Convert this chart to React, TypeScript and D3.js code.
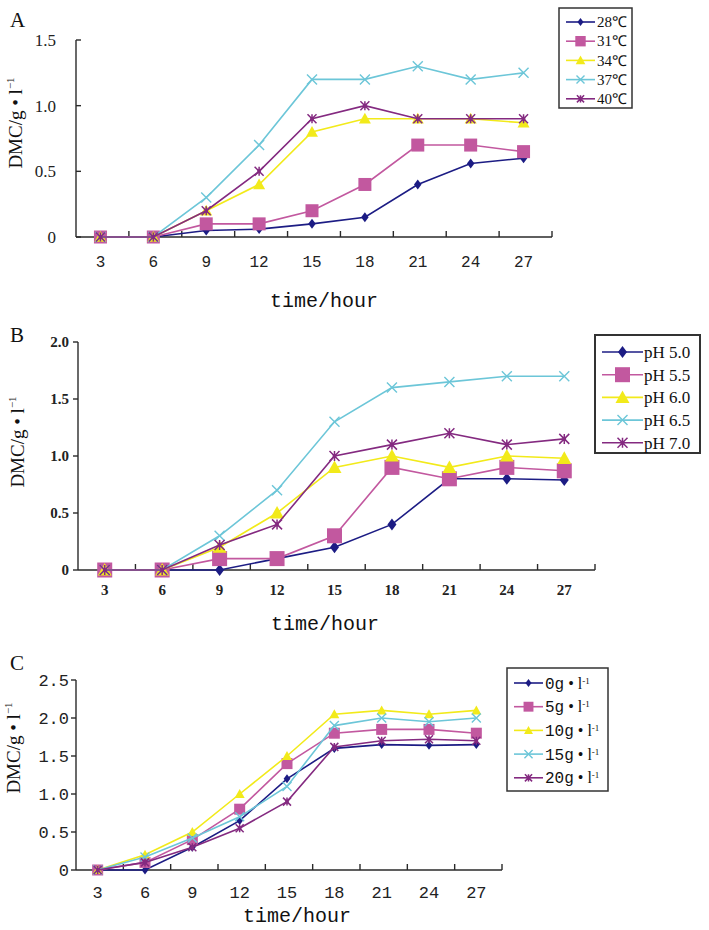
import React from 'react';
import * as d3 from 'd3';

const hours = [3, 6, 9, 12, 15, 18, 21, 24, 27];

const tempLabels = ['28℃', '31℃', '34℃', '37℃', '40℃'];
const temp28 = [0, 0, 0.05, 0.06, 0.1, 0.15, 0.4, 0.56, 0.6];
const temp31 = [0, 0, 0.1, 0.1, 0.2, 0.4, 0.7, 0.7, 0.65];
const temp34 = [0, 0, 0.2, 0.4, 0.8, 0.9, 0.9, 0.9, 0.87];
const temp37 = [0, 0, 0.3, 0.7, 1.2, 1.2, 1.3, 1.2, 1.25];
const temp40 = [0, 0, 0.2, 0.5, 0.9, 1.0, 0.9, 0.9, 0.9];
const tempTicks = [0, 0.5, 1.0, 1.5];

const phLabels = ['pH 5.0', 'pH 5.5', 'pH 6.0', 'pH 6.5', 'pH 7.0'];
const ph50 = [0, 0, 0, 0.1, 0.2, 0.4, 0.8, 0.8, 0.79];
const ph55 = [0, 0, 0.1, 0.1, 0.3, 0.9, 0.8, 0.9, 0.87];
const ph60 = [0, 0, 0.2, 0.5, 0.9, 1.0, 0.9, 1.0, 0.98];
const ph65 = [0, 0, 0.3, 0.7, 1.3, 1.6, 1.65, 1.7, 1.7];
const ph70 = [0, 0, 0.22, 0.4, 1.0, 1.1, 1.2, 1.1, 1.15];
const phTicks = [0, 0.5, 1.0, 1.5, 2.0];

const concLabels = ['0g', '5g', '10g', '15g', '20g'];
const conc0 = [0, 0, 0.3, 0.65, 1.2, 1.6, 1.65, 1.64, 1.65];
const conc5 = [0, 0.1, 0.4, 0.8, 1.4, 1.8, 1.85, 1.85, 1.8];
const conc10 = [0, 0.2, 0.5, 1.0, 1.5, 2.05, 2.1, 2.05, 2.1];
const conc15 = [0, 0.17, 0.42, 0.7, 1.1, 1.9, 2.0, 1.95, 2.0];
const conc20 = [0, 0.1, 0.3, 0.55, 0.9, 1.62, 1.7, 1.72, 1.7];
const concTicks = [0, 0.5, 1.0, 1.5, 2.0, 2.5];

const COLORS = ['#1c1c84', '#c2589f', '#f2ea1a', '#6cc6d8', '#842a80'];
const SHAPES = ['diamond', 'square', 'triangle', 'x', 'star'];
const AXIS = '#2a2a2a';

function Marker({ shape, x, y, s, color }: any) {
  if (shape === 'diamond')
    return <path d={`M${x},${y - s}L${x + s * 0.75},${y}L${x},${y + s}L${x - s * 0.75},${y}Z`} fill={color} />;
  if (shape === 'square')
    return <rect x={x - s} y={y - s} width={2 * s} height={2 * s} fill={color} />;
  if (shape === 'triangle')
    return <path d={`M${x},${y - s}L${x + s},${y + s * 0.8}L${x - s},${y + s * 0.8}Z`} fill={color} />;
  if (shape === 'x')
    return <path d={`M${x - s},${y - s}L${x + s},${y + s}M${x - s},${y + s}L${x + s},${y - s}`} stroke={color} strokeWidth={1.4} fill="none" />;
  return (
    <g>
      <path d={`M${x - s},${y - s}L${x + s},${y + s}M${x - s},${y + s}L${x + s},${y - s}M${x},${y - s}L${x},${y + s}`} stroke={color} strokeWidth={1.5} fill="none" />
      <rect x={x - 1.8} y={y - 1.8} width={3.6} height={3.6} fill={color} />
    </g>
  );
}

const markerSizes: any = {
  A: [5, 6.5, 6, 5, 4.5],
  B: [6, 7.5, 7, 5, 5],
  C: [4.5, 5.5, 5, 4.5, 4],
};

function Panel(p: any) {
  const x = d3.scaleBand<number>().domain(hours).range([p.x0, p.x1]);
  const y = d3.scaleLinear().domain([0, p.yMax]).range([p.yBottom, p.yTop]);
  const cx = (h: number) => (x(h) as number) + x.bandwidth() / 2 - 2;
  const line = d3.line<number>().x((_, i) => cx(hours[i])).y((d) => y(d));
  const sizes = markerSizes[p.letter];
  const tickDir = p.yTickIn ? 1 : -1;
  return (
    <g>
      <text x={p.letterX} y={p.letterY} fontFamily="Liberation Serif" fontSize={21} fill="#111">{p.letter}</text>
      <text transform={`translate(${p.yLabelX},${p.yLabelY}) rotate(-90)`} textAnchor="middle" fontFamily="Liberation Serif" fontSize={19} fill="#111">
        DMC/g • l<tspan dy={-8} fontSize={11}>−1</tspan>
      </text>
      <line x1={p.x0} x2={p.x0} y1={p.yTop} y2={p.yBottom} stroke={AXIS} strokeWidth={1.4} />
      <line x1={p.x0} x2={p.x1} y1={p.yBottom} y2={p.yBottom} stroke={AXIS} strokeWidth={1.4} />
      {p.ticks.map((t: number) => (
        <g key={t}>
          <line x1={p.x0} x2={p.x0 + tickDir * 5} y1={y(t)} y2={y(t)} stroke={AXIS} strokeWidth={1.4} />
          <text x={p.yTickX} y={y(t)} dy="0.35em" textAnchor="end" fontFamily={p.tickFont} fontWeight={p.tickWeight} fontSize={p.yTickSize} fill="#222">
            {t === 0 ? '0' : d3.format('.1f')(t)}
          </text>
        </g>
      ))}
      {hours.map((h) => (
        <g key={h}>
          <line x1={(x(h) as number) + x.bandwidth()} x2={(x(h) as number) + x.bandwidth()} y1={p.yBottom} y2={p.yBottom - 6} stroke={AXIS} strokeWidth={1.4} />
          <text x={cx(h)} y={p.xTickY} dy="0.35em" textAnchor="middle" fontFamily={p.xTickFont} fontWeight={p.tickWeight} fontSize={p.xTickSize} fill="#222">{h}</text>
        </g>
      ))}
      <text x={p.xLabelX} y={p.xLabelY} dy="0.35em" textAnchor="middle" fontFamily="Liberation Mono" fontSize={20} fill="#111">time/hour</text>
      {p.series.map((s: number[], k: number) => (
        <g key={k}>
          <path d={line(s) as string} fill="none" stroke={COLORS[k]} strokeWidth={1.6} />
          {s.map((v, i) => (
            <Marker key={i} shape={SHAPES[k]} x={cx(hours[i])} y={y(v)} s={sizes[k]} color={COLORS[k]} />
          ))}
        </g>
      ))}
      <rect x={p.lg.x} y={p.lg.y} width={p.lg.w} height={p.lg.h} fill="#fff" stroke="#333" strokeWidth={p.lg.bw} />
      {p.labels.map((l: string, k: number) => {
        const ly = p.lg.y0 + k * p.lg.dy;
        return (
          <g key={l}>
            <line x1={p.lg.lx0} x2={p.lg.lx1} y1={ly} y2={ly} stroke={COLORS[k]} strokeWidth={1.6} />
            <Marker shape={SHAPES[k]} x={(p.lg.lx0 + p.lg.lx1) / 2} y={ly} s={sizes[k] * p.lg.ms} color={COLORS[k]} />
            <text x={p.lg.tx} y={ly} dy="0.35em" fontFamily={p.lg.font} fontSize={p.lg.fs} fill="#111">
              {l}
              {p.lg.unit ? (
                <>
                  <tspan fontFamily="Liberation Serif"> • l</tspan>
                  <tspan dy={-5} fontSize={9} fontFamily="Liberation Serif">-1</tspan>
                </>
              ) : null}
            </text>
          </g>
        );
      })}
    </g>
  );
}

export default function App() {
  const panels = [
    {
      letter: 'A', letterX: 10, letterY: 27, x0: 76, x1: 552, yTop: 40, yBottom: 237, yMax: 1.5, ticks: tempTicks,
      yTickIn: true, yTickX: 56, tickFont: 'Liberation Serif', tickWeight: 400, yTickSize: 17,
      xTickFont: 'Liberation Mono', xTickSize: 16, xTickY: 261, xLabelX: 324, xLabelY: 300,
      yLabelX: 22, yLabelY: 123, series: [temp28, temp31, temp34, temp37, temp40], labels: tempLabels,
      lg: { x: 559, y: 8, w: 73, h: 100, bw: 1.5, y0: 22, dy: 19.2, lx0: 566, lx1: 595, tx: 597, fs: 15, font: 'Liberation Serif', ms: 0.8, unit: false },
    },
    {
      letter: 'B', letterX: 10, letterY: 342, x0: 78, x1: 595, yTop: 342, yBottom: 570, yMax: 2.0, ticks: phTicks,
      yTickIn: false, yTickX: 69, tickFont: 'Liberation Serif', tickWeight: 700, yTickSize: 15,
      xTickFont: 'Liberation Serif', xTickSize: 15, xTickY: 590, xLabelX: 325, xLabelY: 623,
      yLabelX: 24, yLabelY: 442, series: [ph50, ph55, ph60, ph65, ph70], labels: phLabels,
      lg: { x: 595, y: 335, w: 105, h: 118, bw: 2, y0: 352, dy: 22.7, lx0: 602, lx1: 643, tx: 644, fs: 17, font: 'Liberation Serif', ms: 1, unit: false },
    },
    {
      letter: 'C', letterX: 10, letterY: 670, x0: 76, x1: 502, yTop: 680, yBottom: 870, yMax: 2.5, ticks: concTicks,
      yTickIn: false, yTickX: 69, tickFont: 'Liberation Mono', tickWeight: 400, yTickSize: 17,
      xTickFont: 'Liberation Mono', xTickSize: 17, xTickY: 892, xLabelX: 297, xLabelY: 915,
      yLabelX: 20, yLabelY: 748, series: [conc0, conc5, conc10, conc15, conc20], labels: concLabels,
      lg: { x: 507, y: 668, w: 101, h: 123, bw: 1.5, y0: 683, dy: 23.7, lx0: 514, lx1: 543, tx: 545, fs: 16, font: 'Liberation Mono', ms: 0.9, unit: true },
    },
  ];
  return (
    <svg width={709} height={930} style={{ position: 'absolute', left: 0, top: 0, background: '#fff' }}>
      <rect width={709} height={930} fill="#fff" />
      {panels.map((p) => (
        <Panel key={p.letter} {...p} />
      ))}
    </svg>
  );
}
